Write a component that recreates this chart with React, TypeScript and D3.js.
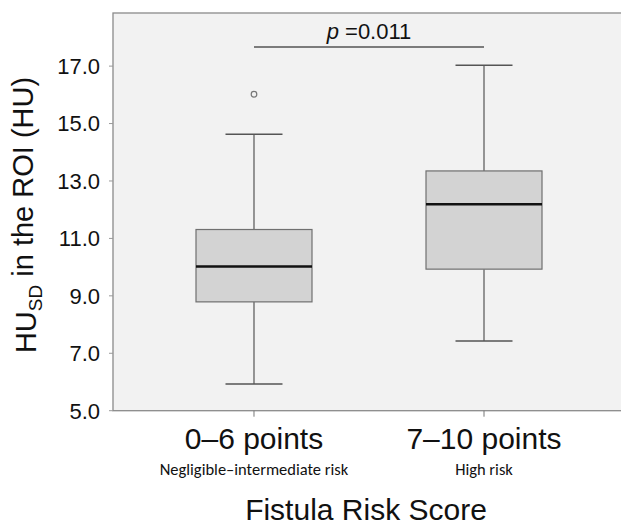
import React, { useRef, useEffect } from "react"
import * as d3 from "d3"

// categories and box statistics
const groups = ["0–6 points", "7–10 points"]
const subLabels = ["Negligible–intermediate risk", "High risk"]
const lowWhisker = [5.93, 7.43]
const q1 = [8.79, 9.93]
const median = [10.02, 12.19]
const q3 = [11.31, 13.35]
const highWhisker = [14.63, 17.03]
const outliers = [[16.02], []]
const yTicks = [5, 7, 9, 11, 13, 15, 17]
const pText = "=0.011"

export default function App() {
  const svgRef = useRef(null)

  useEffect(() => {
    const svg = d3.select(svgRef.current)
    svg.selectAll("*").remove()

    const left = 113, top = 13, right = 625, bottom = 410.7
    const font = "'Liberation Sans', Arial, sans-serif"

    const y = d3.scaleLinear().domain([5, 18.85]).range([bottom, top])
    const x = d3.scalePoint().domain(groups).range([left, right]).padding(0.613)

    const boxW = 116, capW = 57

    // plot background
    svg.append("rect")
      .attr("x", left).attr("y", top)
      .attr("width", right - left).attr("height", bottom - top)
      .attr("fill", "#f2f2f2")
      .attr("stroke", "#8a8a8a")
      .attr("stroke-width", 1.3)

    // y axis ticks + labels
    const yAxis = svg.append("g")
    yAxis.selectAll("line")
      .data(yTicks).enter().append("line")
      .attr("x1", left - 4).attr("x2", left)
      .attr("y1", d => y(d)).attr("y2", d => y(d))
      .attr("stroke", "#999").attr("stroke-width", 1)
    yAxis.selectAll("text")
      .data(yTicks).enter().append("text")
      .attr("x", left - 13)
      .attr("y", d => y(d))
      .attr("dy", "0.36em")
      .attr("text-anchor", "end")
      .attr("font-family", font)
      .attr("font-size", "22px")
      .attr("fill", "#111")
      .text(d => d.toFixed(1))

    // x axis ticks
    svg.selectAll(".xtick")
      .data(groups).enter().append("line")
      .attr("x1", d => x(d)).attr("x2", d => x(d))
      .attr("y1", bottom).attr("y2", bottom + 6)
      .attr("stroke", "#777").attr("stroke-width", 1)

    // boxes
    const g = svg.append("g")
    groups.forEach((c, i) => {
      const cx = x(c)
      g.append("line")
        .attr("x1", cx).attr("x2", cx)
        .attr("y1", y(highWhisker[i])).attr("y2", y(q3[i]))
        .attr("stroke", "#555").attr("stroke-width", 1.2)
      g.append("line")
        .attr("x1", cx).attr("x2", cx)
        .attr("y1", y(q1[i])).attr("y2", y(lowWhisker[i]))
        .attr("stroke", "#555").attr("stroke-width", 1.2)
      ;[highWhisker[i], lowWhisker[i]].forEach(v => {
        g.append("line")
          .attr("x1", cx - capW / 2).attr("x2", cx + capW / 2)
          .attr("y1", y(v)).attr("y2", y(v))
          .attr("stroke", "#555").attr("stroke-width", 1.5)
      })
      g.append("rect")
        .attr("x", cx - boxW / 2).attr("y", y(q3[i]))
        .attr("width", boxW).attr("height", y(q1[i]) - y(q3[i]))
        .attr("fill", "#d3d3d3")
        .attr("stroke", "#707070").attr("stroke-width", 1.2)
      g.append("line")
        .attr("x1", cx - boxW / 2).attr("x2", cx + boxW / 2)
        .attr("y1", y(median[i])).attr("y2", y(median[i]))
        .attr("stroke", "#111").attr("stroke-width", 2.5)
      outliers[i].forEach(v => {
        g.append("circle")
          .attr("cx", cx).attr("cy", y(v)).attr("r", 2.8)
          .attr("fill", "#f2f2f2")
          .attr("stroke", "#777").attr("stroke-width", 1.2)
      })

      // category labels
      svg.append("text")
        .attr("x", cx).attr("y", 449)
        .attr("text-anchor", "middle")
        .attr("font-family", font)
        .attr("font-size", "30px")
        .attr("fill", "#111")
        .text(c)
      svg.append("text")
        .attr("x", cx).attr("y", 475)
        .attr("text-anchor", "middle")
        .attr("font-family", "Carlito, Calibri, Lato, sans-serif")
        .attr("font-size", "16.5px")
        .attr("fill", "#111")
        .text(subLabels[i])
    })

    // significance bracket
    svg.append("line")
      .attr("x1", x(groups[0])).attr("x2", x(groups[1]))
      .attr("y1", 47).attr("y2", 47)
      .attr("stroke", "#555").attr("stroke-width", 1.4)
    const pt = svg.append("text")
      .attr("x", (x(groups[0]) + x(groups[1])) / 2)
      .attr("y", 39)
      .attr("text-anchor", "middle")
      .attr("font-family", font)
      .attr("font-size", "22px")
      .attr("fill", "#111")
    pt.append("tspan").attr("font-style", "italic").text("p")
    pt.append("tspan").text(" " + pText)

    // axis titles
    svg.append("text")
      .attr("x", 366).attr("y", 520)
      .attr("text-anchor", "middle")
      .attr("font-family", font)
      .attr("font-size", "30px")
      .attr("fill", "#111")
      .text("Fistula Risk Score")

    const yl = svg.append("text")
      .attr("transform", "translate(36," + 215 + ") rotate(-90)")
      .attr("text-anchor", "middle")
      .attr("font-family", font)
      .attr("font-size", "29px")
      .attr("fill", "#111")
    yl.append("tspan").text("HU")
    yl.append("tspan").attr("font-size", "19px").attr("dy", "0.3em").text("SD")
    yl.append("tspan").attr("dy", "-0.3em").text(" in the ROI (HU)")
  }, [])

  return (
    <svg ref={svgRef} width={621} height={526}
      style={{ position: "absolute", left: 0, top: 0, background: "#fff" }} />
  )
}
